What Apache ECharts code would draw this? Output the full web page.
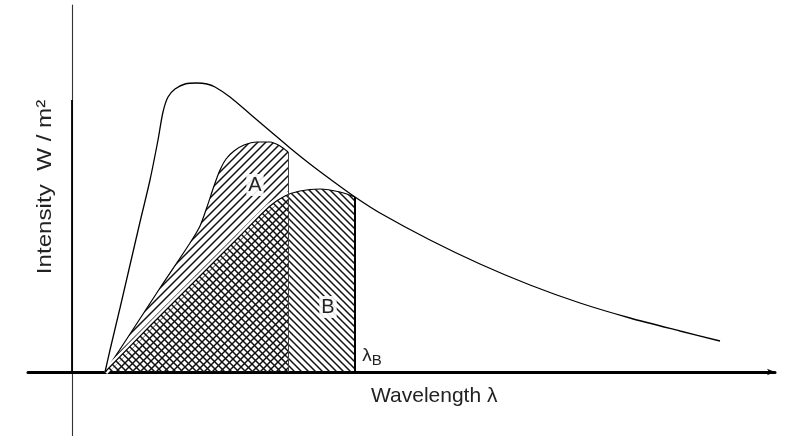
<!DOCTYPE html>
<html>
<head>
<meta charset="utf-8">
<script src="https://cdn.jsdelivr.net/npm/echarts@6/dist/echarts.min.js"></script>
<style>
html,body{margin:0;padding:0;background:#fff;}
#c{width:790px;height:436px;}
</style>
</head>
<body>
<div id="c"></div>
<script>
// Data: [wavelength, intensity] (arbitrary units, origin at axes crossing)
var totalCurve = [[33,0],[38,22],[48,64],[58,107],[68,150],[78,192],[86,232],[91,260],[96,275],[103,283],[113,288],[125,289],[135,288],[143,285],[158,275],[178,258],[198,241],[218,224],[238,208],[258,193],[283,175],[308,159],[358,132],[408,108],[458,87],[508,69],[558,54],[608,41],[648,31]];
var curveA = [[33,0],[58,38],[88,84],[118,129],[128,146],[135,165],[142,186],[148,202],[154,213],[162,221],[172,227],[185,230],[198,230],[208,226],[216,220]];
var curveB = [[33,0],[78,46],[128,96],[168,136],[198,166],[213,176],[228,181],[248,183],[268,180],[283,175]];
var labelA = 'A';
var labelB = 'B';
var labelLambdaB = ['λ', 'B'];
var xTitle = 'Wavelength λ';
var yTitle = 'Intensity  W / m²';

function hatch(dir, s, w) {
  var c = document.createElement('canvas');
  c.width = s; c.height = s;
  var ctx = c.getContext('2d');
  ctx.strokeStyle = '#111';
  ctx.lineWidth = w;
  ctx.beginPath();
  if (dir === '/') {
    ctx.moveTo(0, s); ctx.lineTo(s, 0);
    ctx.moveTo(-1, 1); ctx.lineTo(1, -1);
    ctx.moveTo(s - 1, s + 1); ctx.lineTo(s + 1, s - 1);
  } else {
    ctx.moveTo(0, 0); ctx.lineTo(s, s);
    ctx.moveTo(-1, s - 1); ctx.lineTo(1, s + 1);
    ctx.moveTo(s - 1, -1); ctx.lineTo(s + 1, 1);
  }
  ctx.stroke();
  return c;
}

var aEnd = curveA[curveA.length - 1];
var bEnd = curveB[curveB.length - 1];
var FONT = '"Liberation Sans", Arial, sans-serif';
var SMOOTH = 0.3;

var chart = echarts.init(document.getElementById('c'), null, {renderer: 'canvas'});
chart.setOption({
  animation: false,
  backgroundColor: '#fff',
  grid: {left: 28, right: 15, top: 5, bottom: 0, containLabel: false},
  xAxis: {
    type: 'value', min: -44, max: 703,
    axisLine: {show: true, onZero: true, symbol: ['none', 'arrow'], symbolSize: [5, 8], lineStyle: {color: '#000', width: 3}},
    axisTick: {show: false}, axisLabel: {show: false}, splitLine: {show: false}
  },
  yAxis: {
    type: 'value', min: -64, max: 367,
    axisLine: {show: true, onZero: true, lineStyle: {color: '#333', width: 1.1}},
    axisTick: {show: false}, axisLabel: {show: false}, splitLine: {show: false}
  },
  series: [
    {
      type: 'line', data: totalCurve, smooth: SMOOTH, symbol: 'none',
      lineStyle: {color: '#000', width: 1.3}, z: 6,
      markLine: {
        silent: true, symbol: 'none', label: {show: false},
        lineStyle: {color: '#000', width: 1.8, type: 'solid'},
        data: [[{coord: [0, 272]}, {coord: [0, 0]}]]
      }
    },
    {
      type: 'line', data: curveA, smooth: SMOOTH, symbol: 'none',
      lineStyle: {color: '#000', width: 1.2},
      areaStyle: {color: {image: hatch('/', 8, 1.5), repeat: 'repeat'}, opacity: 1},
      markLine: {
        silent: true, symbol: 'none', label: {show: false},
        lineStyle: {color: '#444', width: 1, type: 'solid'},
        data: [[{coord: [aEnd[0], aEnd[1]]}, {coord: [aEnd[0], 0]}]]
      },
      markPoint: {
        symbolSize: 0,
        label: {show: true, color: '#222', fontFamily: FONT, fontSize: 20, formatter: labelA, backgroundColor: 'rgba(255,255,255,0.9)', padding: [1, 2]},
        data: [{coord: [183, 187]}]
      },
      z: 3
    },
    {
      // white gap along the upper edge of curve B
      type: 'line', data: curveB, smooth: SMOOTH, symbol: 'none', silent: true,
      lineStyle: {color: '#fff', width: 6}, z: 3.5
    },
    {
      type: 'line', data: curveB, smooth: SMOOTH, symbol: 'none',
      lineStyle: {color: '#000', width: 1.2},
      areaStyle: {color: {image: hatch('\\', 7, 1.5), repeat: 'repeat'}, opacity: 1},
      markLine: {
        silent: true, symbol: 'none', label: {show: false},
        lineStyle: {color: '#000', width: 2, type: 'solid'},
        data: [[{coord: [bEnd[0], bEnd[1]]}, {coord: [bEnd[0], 0]}]]
      },
      markPoint: {
        symbolSize: 0,
        label: {
          show: true, color: '#222', fontFamily: FONT,
          formatter: function (p) { return p.name === 'b' ? labelB : '{l|' + labelLambdaB[0] + '}{s|' + labelLambdaB[1] + '}'; },
          backgroundColor: 'transparent',
          rich: {
            l: {fontSize: 19, fontFamily: FONT, color: '#222'},
            s: {fontSize: 15, fontFamily: FONT, color: '#222', padding: [9, 0, 0, 0]}
          }
        },
        data: [
          {name: 'b', coord: [256, 65], label: {fontSize: 20, backgroundColor: 'rgba(255,255,255,0.9)', padding: [1, 2]}},
          {name: 'lb', coord: [300, 16], label: {}}
        ]
      },
      z: 4
    }
  ],
  graphic: [
    {type: 'text', left: 371, top: 386, style: {text: xTitle, font: '21px ' + FONT, fill: '#222'}},
    {type: 'text', x: 45, y: 187, rotation: Math.PI / 2, scaleX: 1.15,
     style: {text: yTitle, font: '21px ' + FONT, fill: '#222', align: 'center', verticalAlign: 'middle'}}
  ]
});
</script>
</body>
</html>
